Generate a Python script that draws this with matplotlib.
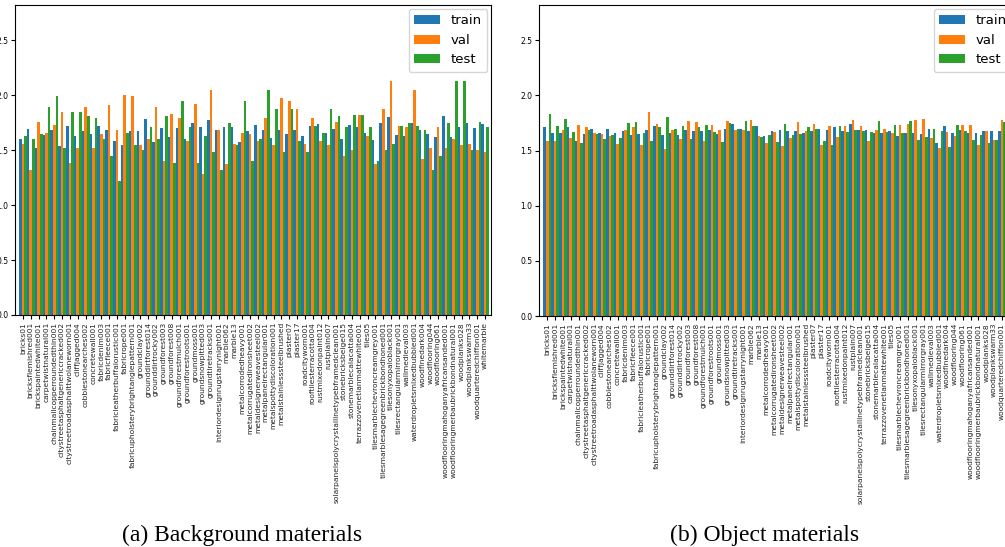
import matplotlib
matplotlib.use("Agg")
import matplotlib.pyplot as plt
import numpy as np

categories = [
    "bricks01", "bricksflemishred001", "brickspaintedwhite001", "carpetwistnatural001",
    "chainmailcopperroundedthin001", "citystreetasphaltgenericcracked002",
    "citystreetroadasphalttwolaneworn001", "cliffjagged004", "cobblestonearches002",
    "concretewall001", "fabricdenim003", "fabricfleece001", "fabricleatherbuffalorustic001",
    "fabricrope001", "fabricupholsterybrightanglepattern001", "groundclay002",
    "grounddirtforest014", "grounddirtrocky002", "groundforest003", "groundforest008",
    "groundforestmulch001", "groundforestroots001", "groundmoss001", "groundsnowpitted003",
    "groundtiretracks001", "interiordesignrugstarrynight001", "marble062", "marble13",
    "metalcorrodedheavy001", "metalcorrugatedironsheet002", "metaldesignerweavesteel002",
    "metalpanelrectangular001", "metalspottydiscoloration001", "metalstainlesssteelbrushed",
    "plaster07", "plaster17", "roadcityworn001", "rooftilesterracotta004",
    "rustmixedonpaint012", "rustplain007", "solarpanelspolycrystallinetypebframedclean001",
    "stonebricksbeige015", "stonemarblecalacatta004", "terrazzovenetianmattewhite001",
    "tiles05", "tilesmarblechevroncreamgrey001", "tilesmarblesagegreenbrickbondhoned001",
    "tilesonyxopaloblack001", "tilesrectangularmirrorgray001", "wallmedieval003",
    "waterdropletsmixedbubbled001", "woodfinedark004", "woodflooring044", "woodflooring061",
    "woodflooringmahoganyafricansanded001", "woodflooringmerbaubrickbondnatural001",
    "woodplanks028", "woodplankswarm33", "woodquarteredchiffon001", "whitemarble",
]

series_names = ["train", "val", "test"]
yticks = [0.0, 0.5, 1.0, 1.5, 2.0, 2.5]
captions = ["(a) Background materials", "(b) Object materials"]

# (a) Background materials
bg_train = [1.60, 1.69, 1.52, 1.64, 1.68, 1.54, 1.72, 1.63, 1.67, 1.65,
            1.72, 1.68, 1.58, 1.55, 1.67, 1.67, 1.78, 1.57, 1.70, 1.62,
            1.70, 1.60, 1.75, 1.71, 1.77, 1.68, 1.71, 1.71, 1.57, 1.67,
            1.73, 1.68, 1.61, 1.68, 1.65, 1.68, 1.63, 1.72, 1.74, 1.66,
            1.69, 1.60, 1.73, 1.71, 1.66, 1.59, 1.75, 1.80, 1.64, 1.63,
            1.75, 1.68, 1.65, 1.62, 1.81, 1.62, 1.71, 1.75, 1.70, 1.74]
bg_val = [1.56, 1.32, 1.76, 1.66, 1.73, 1.85, 1.38, 1.52, 1.89, 1.52,
          1.65, 1.91, 1.68, 2.00, 1.99, 1.55, 1.60, 1.89, 1.40, 1.83,
          1.79, 1.58, 1.92, 1.28, 2.05, 1.68, 1.37, 1.56, 1.66, 1.65,
          1.58, 1.79, 1.55, 1.97, 1.95, 1.87, 1.56, 1.79, 1.58, 1.55,
          1.76, 1.45, 1.50, 1.82, 1.63, 1.37, 1.87, 2.13, 1.72, 1.71,
          2.05, 1.42, 1.52, 1.71, 1.52, 1.60, 1.55, 1.56, 1.50, 1.48]
bg_test = [1.63, 1.60, 1.65, 1.89, 1.99, 1.52, 1.85, 1.85, 1.81, 1.79,
           1.60, 1.45, 1.22, 1.66, 1.55, 1.50, 1.71, 1.60, 1.81, 1.38,
           1.95, 1.71, 1.38, 1.63, 1.48, 1.32, 1.75, 1.55, 1.95, 1.40,
           1.60, 2.05, 1.87, 1.48, 1.87, 1.58, 1.48, 1.72, 1.66, 1.87,
           1.81, 1.71, 1.82, 1.82, 1.71, 1.40, 1.50, 1.56, 1.72, 1.75,
           1.72, 1.68, 1.32, 1.45, 1.75, 2.13, 2.13, 1.50, 1.76, 1.71]

# (b) Object materials
obj_train = [1.71, 1.655, 1.66, 1.71, 1.585, 1.65, 1.70, 1.66, 1.70, 1.66,
             1.68, 1.64, 1.65, 1.69, 1.72, 1.64, 1.655, 1.64, 1.685, 1.68,
             1.68, 1.685, 1.65, 1.70, 1.74, 1.70, 1.675, 1.72, 1.63, 1.68,
             1.685, 1.68, 1.68, 1.66, 1.675, 1.70, 1.685, 1.71, 1.68, 1.745,
             1.685, 1.685, 1.655, 1.66, 1.68, 1.63, 1.66, 1.655, 1.65, 1.70,
             1.57, 1.72, 1.655, 1.685, 1.655, 1.655, 1.68, 1.68, 1.675, 1.68]
obj_val = [1.585, 1.59, 1.685, 1.615, 1.735, 1.71, 1.66, 1.65, 1.63, 1.56,
           1.685, 1.715, 1.55, 1.85, 1.745, 1.51, 1.69, 1.605, 1.765, 1.76,
           1.585, 1.73, 1.69, 1.765, 1.69, 1.69, 1.78, 1.63, 1.57, 1.665,
           1.54, 1.615, 1.76, 1.68, 1.74, 1.55, 1.72, 1.62, 1.72, 1.78,
           1.725, 1.585, 1.69, 1.70, 1.66, 1.73, 1.74, 1.78, 1.79, 1.61,
           1.52, 1.665, 1.63, 1.73, 1.735, 1.55, 1.68, 1.60, 1.78, 1.70]
obj_test = [1.83, 1.72, 1.785, 1.665, 1.57, 1.685, 1.65, 1.605, 1.64, 1.61,
            1.75, 1.755, 1.655, 1.585, 1.71, 1.80, 1.70, 1.72, 1.605, 1.71,
            1.73, 1.665, 1.58, 1.75, 1.70, 1.77, 1.72, 1.62, 1.645, 1.58,
            1.74, 1.64, 1.65, 1.71, 1.70, 1.585, 1.55, 1.72, 1.665, 1.685,
            1.68, 1.665, 1.765, 1.665, 1.735, 1.66, 1.77, 1.60, 1.62, 1.695,
            1.675, 1.53, 1.735, 1.675, 1.60, 1.64, 1.565, 1.595, 1.76, 1.70]

colors = ["#1f77b4", "#ff7f0e", "#2ca02c"]

W, H = 1005, 547
fig = plt.figure(figsize=(W / 100, H / 100), dpi=100)

def px_axes(x0, x1, ytop, ybot):
    return [x0 / W, 1 - ybot / H, (x1 - x0) / W, (ybot - ytop) / H]

ax_a = fig.add_axes(px_axes(15.1, 491.4, 5, 315))
ax_b = fig.add_axes(px_axes(539.4, 1016.1, 5, 316))

panels = [(ax_a, [bg_train, bg_val, bg_test]), (ax_b, [obj_train, obj_val, obj_test])]
x = np.arange(len(categories))
w = 1 / 3
for ax, data in panels:
    for k, (name, vals, c) in enumerate(zip(series_names, data, colors)):
        ax.bar(x + (k - 1) * w, vals, width=w, color=c, label=name, linewidth=0)
    ax.set_xlim(-1.0, 59.8)
    ax.set_ylim(0, 2.82)
    ax.set_yticks(yticks)
    ax.set_yticklabels([f"{t:.1f}" for t in yticks], fontsize=5.5)
    ax.set_xticks(x)
    ax.set_xticklabels(categories, rotation=90, fontsize=5.4, color="#222222")
    ax.tick_params(axis="both", length=3, width=0.8, pad=2)
    ax.legend(loc="upper right", fontsize=9.5, framealpha=0.8, borderaxespad=0.3)

fig.text(242 / W, 1 - 535 / H, captions[0], ha="center", va="center",
         family="Liberation Serif", fontsize=17)
fig.text(765 / W, 1 - 535 / H, captions[1], ha="center", va="center",
         family="Liberation Serif", fontsize=17)

fig.savefig("out.png", dpi=100)
